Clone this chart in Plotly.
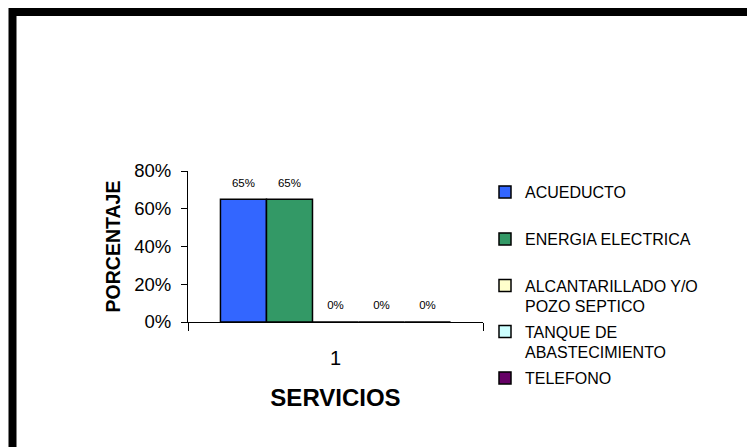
import plotly.graph_objects as go

CATEGORIES = ["1"]
SERIES_NAMES = [
    "ACUEDUCTO",
    "ENERGIA ELECTRICA",
    "ALCANTARILLADO Y/O<br>POZO SEPTICO",
    "TANQUE DE<br>ABASTECIMIENTO",
    "TELEFONO",
]
SERIES_VALUES = [0.65, 0.65, 0.0, 0.0, 0.0]
SERIES_COLORS = ["#3366FF", "#339966", "#FFFFCC", "#CCFFFF", "#660066"]
Y_TICKS = [0, 0.2, 0.4, 0.6, 0.8]
Y_TICK_LABELS = ["0%", "20%", "40%", "60%", "80%"]

FONT = "Liberation Sans, Arial, sans-serif"

# plot area in pixels (747x447 page)
PLOT_L, PLOT_R, PLOT_T, PLOT_B = 188, 483, 171, 322
W, H = 747, 447

# vertical centre of every legend entry, in pixels
LEGEND_CENTERS = [192, 239, 296, 342, 378]


def px_x(px):
    return (px - PLOT_L) / (PLOT_R - PLOT_L)


def px_y(py):
    return (PLOT_B - py) / (PLOT_B - PLOT_T)


fig = go.Figure()

legend_ids = ["legend"] + [f"legend{i}" for i in range(2, len(SERIES_NAMES) + 1)]

for i, (name, value, color) in enumerate(zip(SERIES_NAMES, SERIES_VALUES, SERIES_COLORS)):
    fig.add_trace(
        go.Bar(
            x=CATEGORIES,
            y=[value],
            name=name,
            legend=legend_ids[i],
            marker=dict(color=color, line=dict(color="black", width=1.5)),
        )
    )

# value labels, grouped the same way as the bars
for i, value in enumerate(SERIES_VALUES):
    fig.add_trace(
        go.Scatter(
            x=CATEGORIES,
            y=[value],
            mode="markers+text",
            text=[f"{value:.0%}"],
            textposition="top center",
            textfont=dict(family=FONT, size=11.5, color="black"),
            marker=dict(size=14, opacity=0),
            showlegend=False,
            hoverinfo="skip",
            cliponaxis=False,
        )
    )

# helper axis that carries the category boundary ticks at both ends
fig.add_trace(
    go.Scatter(
        x=[0],
        y=[0],
        xaxis="x2",
        mode="markers",
        marker=dict(opacity=0),
        showlegend=False,
        hoverinfo="skip",
    )
)

# frame around the chart (top and left edges visible, rest runs off the page)
fig.add_shape(
    type="path",
    xref="paper",
    yref="paper",
    path=f"M {px_x(12.5)},{px_y(500)} L {px_x(12.5)},{px_y(12)} L {px_x(800)},{px_y(12)}",
    line=dict(color="black", width=8),
)

legends = {}
for i, lid in enumerate(legend_ids):
    legends[lid] = dict(
        x=px_x(485),
        y=px_y(LEGEND_CENTERS[i]),
        xanchor="left",
        yanchor="middle",
        font=dict(family=FONT, size=16, color="black"),
        itemwidth=30,
        valign="top",
        bgcolor="rgba(0,0,0,0)",
    )

fig.update_layout(
    width=W,
    height=H,
    barmode="group",
    bargap=0.22,
    bargroupgap=0,
    scattermode="group",
    scattergap=0.22,
    plot_bgcolor="white",
    paper_bgcolor="white",
    font=dict(family=FONT, color="black"),
    margin=dict(l=PLOT_L, r=W - PLOT_R, t=PLOT_T, b=H - PLOT_B, autoexpand=False),
    showlegend=True,
    xaxis=dict(
        type="category",
        showline=True,
        linecolor="black",
        linewidth=1.2,
        ticks="",
        ticklabelstandoff=18,
        tickfont=dict(family=FONT, size=20),
        title=dict(text="<b>SERVICIOS</b>", font=dict(family=FONT, size=24), standoff=21),
        range=[-0.5, 0.5],
        automargin=False,
    ),
    xaxis2=dict(
        overlaying="x",
        anchor="y",
        side="bottom",
        range=[-0.5, 0.5],
        tickvals=[-0.5, 0.5],
        ticks="outside",
        ticklen=8,
        tickwidth=1.2,
        tickcolor="black",
        showticklabels=False,
        showline=False,
        showgrid=False,
        zeroline=False,
        automargin=False,
    ),
    yaxis=dict(
        range=[0, 0.8],
        tickvals=Y_TICKS,
        ticktext=Y_TICK_LABELS,
        showline=True,
        linecolor="black",
        linewidth=1,
        ticks="outside",
        ticklen=6,
        tickcolor="black",
        ticklabelstandoff=6,
        showgrid=False,
        zeroline=False,
        tickfont=dict(family=FONT, size=18.5),
        title=dict(text="<b>PORCENTAJE</b>", font=dict(family=FONT, size=19.5), standoff=8),
        automargin=False,
    ),
    **legends,
)

fig.write_html(
    "out.html",
    config={"displayModeBar": False},
    post_script="document.body.style.margin='0';",
)
